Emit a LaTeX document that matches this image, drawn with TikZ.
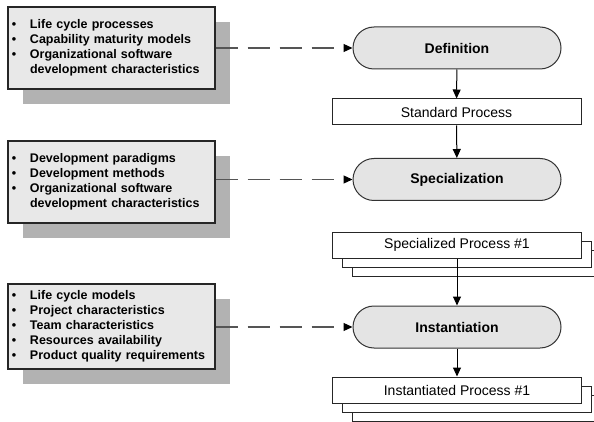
\documentclass[tikz,border=0pt]{standalone}
\usepackage{fontspec}
\setmainfont{Liberation Sans}
\usetikzlibrary{arrows.meta,shadows}
\definecolor{boxfill}{HTML}{E8E8E8}
\definecolor{shadowgray}{HTML}{B2B2B2}
\definecolor{termfill}{HTML}{E4E4E4}
\definecolor{dashgray}{HTML}{555555}
\newcommand{\bitem}{\makebox[18pt][l]{\textbullet}}
\newcommand{\bcont}{\hspace*{18pt}}
\begin{document}
\begin{tikzpicture}[x=1pt,y=-1pt,
  infobox/.style={draw=black!85, line width=1.2pt, fill=boxfill,
    minimum width=207pt, inner xsep=4pt, inner ysep=0pt,
    text width=199pt, align=left,
    font=\fontsize{12.5}{15}\selectfont\bfseries,
    drop shadow={shadow xshift=15pt, shadow yshift=-15pt, fill=shadowgray, opacity=1}},
  terminal/.style={draw=black!80, line width=1pt, fill=termfill,
    minimum width=208pt, minimum height=42pt, rounded corners=21pt,
    font=\fontsize{14}{16}\selectfont\bfseries},
  procbox/.style={draw=black!85, line width=1pt, fill=white,
    minimum width=249pt, minimum height=26pt, inner sep=0pt,
    font=\fontsize{14}{16}\selectfont},
  procstack/.style={procbox,
    double copy shadow={shadow xshift=10pt, shadow yshift=-9pt,
      fill=white, draw=black!85, line width=1pt}},
  flow/.style={draw=black, line width=1pt, -{Triangle[length=9pt,width=8pt]}},
  feed/.style={draw=dashgray, line width=1.2pt, dash pattern=on 22pt off 10pt,
    -{Triangle[length=9pt,width=8pt,black]}}
]
\fill[white] (0,0) rectangle (594,422);
\useasboundingbox (0,0) rectangle (594,422);

% input boxes on the left
\node[infobox, minimum height=82pt] (in1) at (111.5,48)
  {\bitem Life cycle processes\\
   \bitem Capability maturity models\\
   \bitem Organizational software\\
   \bcont development characteristics};
\node[infobox, minimum height=82pt] (in2) at (111.5,182)
  {\bitem Development paradigms\\
   \bitem Development methods\\
   \bitem Organizational software\\
   \bcont development characteristics};
\node[infobox, minimum height=85pt] (in3) at (111.5,326.5)
  {\bitem Life cycle models\\
   \bitem Project characteristics\\
   \bitem Team characteristics\\
   \bitem Resources availability\\
   \bitem Product quality requirements};

% process activities
\node[terminal] (def) at (457,48) {Definition};
\node[terminal] (spc) at (457,179.5) {Specialization};
\node[terminal] (ins) at (457,327) {Instantiation};

% resulting processes
\node[procbox] (std) at (456.5,112) {Standard Process};
\node[procstack] (spp) at (457,245) {Specialized Process \#1};
\node[procstack] (inp) at (457,390) {Instantiated Process \#1};

% main flow
\draw[flow] (def) -- (std);
\draw[flow] (std) -- (spc);
\draw[flow] (spp.south) -- (ins);
\draw[flow] (ins) -- (inp);

% inputs feeding each activity
\draw[feed] (in1.east |- def.west) -- (def.west);
\draw[feed] (in2.east |- spc.west) -- (spc.west);
\draw[feed] (in3.east |- ins.west) -- (ins.west);
\end{tikzpicture}
\end{document}
